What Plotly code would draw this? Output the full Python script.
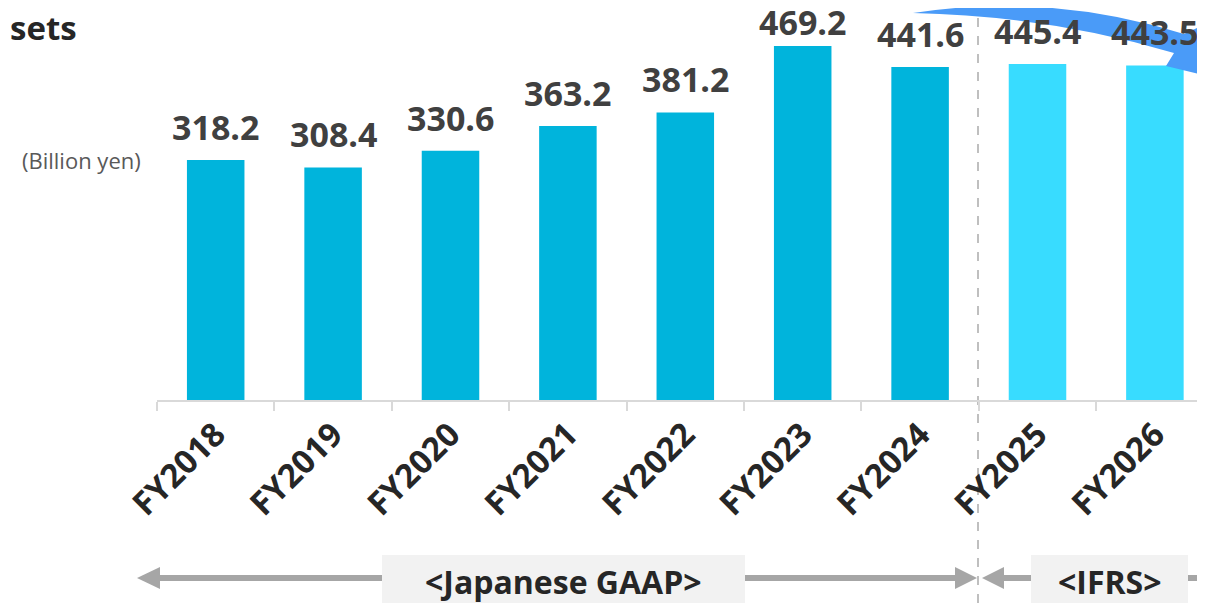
import plotly.graph_objects as go

# Total assets (billion yen)
YEARS = ["FY2018", "FY2019", "FY2020", "FY2021", "FY2022",
         "FY2023", "FY2024", "FY2025", "FY2026"]
ASSETS = [318.2, 308.4, 330.6, 363.2, 381.2, 469.2, 441.6, 445.4, 443.5]
IS_PLAN = [False, False, False, False, False, False, False, True, True]

ACTUAL_COLOR = "#00B4DC"
PLAN_COLOR = "#38DCFF"
GRAY = "#A6A6A6"
FONT = "Open Sans"

# the page body has an 8px margin, so the figure is 8px smaller than the window
OFF = 8
W, H = 1205 - OFF, 603 - OFF
L, T, B = 157 - OFF, 0, 203
PW, PH = W - L, H - T - B
PX_PER_UNIT = 240 / 318.2


def px(x):
    """Window pixel x -> paper x."""
    return (x - OFF - L) / PW


def py(y):
    """Window pixel y -> paper y."""
    return (PH - (y - OFF)) / PH


fig = go.Figure()

fig.add_trace(
    go.Bar(
        x=YEARS,
        y=ASSETS,
        width=0.49,
        marker_color=[PLAN_COLOR if p else ACTUAL_COLOR for p in IS_PLAN],
        marker_line_width=0,
        hoverinfo="x+y",
    )
)

# value labels above the bars; the tallest one is pulled down so it fits
annotations = []
for yr, v in zip(YEARS, ASSETS):
    bar_top = PH + OFF - v * PX_PER_UNIT
    gap = min(20, bar_top - 35)
    annotations.append(dict(
        x=yr, y=v, xref="x", yref="y", text=f"<b>{v:.1f}</b>",
        showarrow=False, yanchor="bottom", yshift=gap - 12,
        font=dict(family=FONT, size=34, color="#404040"),
    ))

annotations += [
    dict(x=px(8), y=py(28), xref="paper", yref="paper", text="<b>sets</b>",
         showarrow=False, xanchor="left", yanchor="middle",
         font=dict(family=FONT, size=33, color="#262626")),
    dict(x=px(143), y=py(160), xref="paper", yref="paper", text="(Billion yen)",
         showarrow=False, xanchor="right", yanchor="middle",
         font=dict(family=FONT, size=22, color="#595959")),
    dict(x=px(563), y=py(581), xref="paper", yref="paper",
         text="<b>&lt;Japanese GAAP&gt;</b>", showarrow=False,
         xanchor="center", yanchor="middle",
         font=dict(family=FONT, size=32, color="#262626")),
    dict(x=px(1110), y=py(581), xref="paper", yref="paper",
         text="<b>&lt;IFRS&gt;</b>", showarrow=False,
         xanchor="center", yanchor="middle",
         font=dict(family=FONT, size=32, color="#262626")),
]

shapes = []
# divider between GAAP and IFRS
shapes.append(dict(type="line", xref="paper", yref="paper",
                   x0=px(978), x1=px(978), y0=py(0), y1=py(603),
                   line=dict(color="#BFBFBF", width=2, dash="dash"), layer="below"))

# bottom period arrows
ay = 578
for x0, x1 in [(150, 382), (745, 960), (996, 1031), (1188, 1205)]:
    shapes.append(dict(type="line", xref="paper", yref="paper",
                       x0=px(x0), x1=px(x1), y0=py(ay), y1=py(ay),
                       line=dict(color=GRAY, width=6)))


def tri(tip, base, half):
    return (f"M {px(tip)},{py(ay)} L {px(base)},{py(ay - half)} "
            f"L {px(base)},{py(ay + half)} Z")


for tip, base in [(137, 160), (977, 955), (982, 1004)]:
    shapes.append(dict(type="path", xref="paper", yref="paper",
                       path=tri(tip, base, 11), fillcolor=GRAY, line_width=0))

for x0, x1 in [(382, 745), (1031, 1188)]:
    shapes.append(dict(type="rect", xref="paper", yref="paper",
                       x0=px(x0), x1=px(x1), y0=py(555), y1=py(603),
                       fillcolor="#F2F2F2", line_width=0, layer="below"))

# curved blue arrow at top right
pts = ("M {},{} Q {},{} {},{} L {},{} L {},{} L {},{} L {},{} Q {},{} {},{} Z")
coords = [(913, 13), (1050, -8), (1184, 34), (1197, 28), (1216, 78),
          (1166, 66), (1174, 53), (1050, 16), (913, 13)]
flat = []
for x, y in coords:
    flat += [px(x), py(y)]
shapes.append(dict(type="path", xref="paper", yref="paper",
                   path=pts.format(*flat), fillcolor="#4A9BF8", line_width=0))

fig.update_layout(
    width=W, height=H, autosize=False,
    margin=dict(l=L, r=0, t=T, b=B, pad=0),
    plot_bgcolor="white", paper_bgcolor="white",
    showlegend=False,
    xaxis=dict(
        type="category", range=[-0.5, -0.5 + PW / 117.4],
        showline=True, linecolor="#D9D9D9", linewidth=2,
        ticks="outside", tickson="boundaries", ticklen=9,
        tickcolor="#D9D9D9", tickwidth=2,
        tickangle=-45, showgrid=False,
        tickfont=dict(family=FONT, size=33, color="#262626", weight="bold"),
    ),
    yaxis=dict(range=[0, PH / PX_PER_UNIT], visible=False, showgrid=False),
    annotations=annotations,
    shapes=shapes,
)

fig.write_html("out.html")
